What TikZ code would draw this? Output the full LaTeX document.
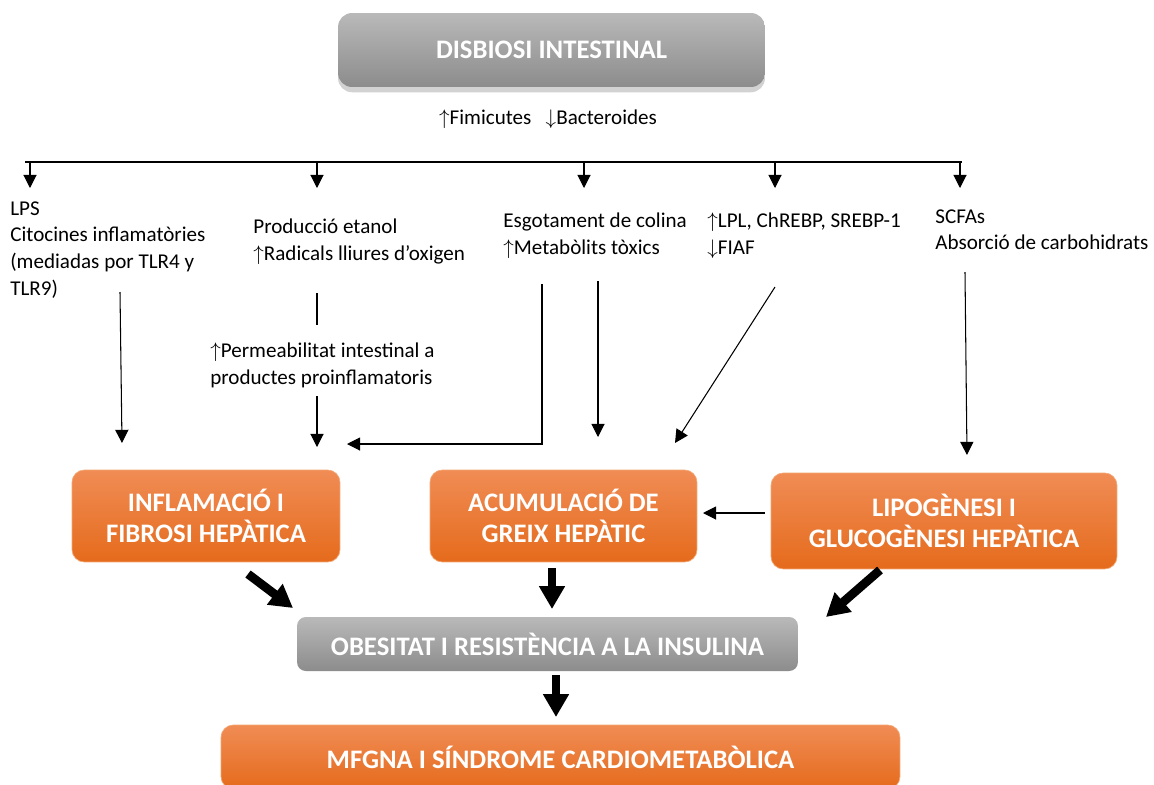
\documentclass[tikz,border=0pt]{standalone}
\usepackage{fontspec}
\setmainfont{Carlito}
\usetikzlibrary{arrows.meta,shadows}
\definecolor{grayT}{HTML}{B9B9B9}
\definecolor{grayB}{HTML}{8C8C8C}
\definecolor{orangeT}{HTML}{F08C55}
\definecolor{orangeB}{HTML}{E56B1C}
\definecolor{orangeE}{HTML}{F4A774}
\newcommand{\inc}{$\uparrow$}
\newcommand{\dec}{$\downarrow$}
\begin{document}
\begin{tikzpicture}[x=0.02cm,y=-0.02cm,
    arr/.style={line width=0.6pt,-{Triangle[width=7.5pt,length=7.5pt]}},
    bigarr/.style={line width=5pt,-{Triangle[width=14pt,length=13pt]}},
    txt/.style={anchor=north west,inner sep=0pt,align=left,font=\fontsize{12}{15.2}\selectfont},
    boxtxt/.style={text=white,font=\bfseries\fontsize{15.2}{18}\selectfont,align=center},
    orangebox/.style={boxtxt,rounded corners=7pt,top color=orangeT,bottom color=orangeB,draw=orangeE,line width=0.4pt},
    graybox/.style={boxtxt,rounded corners=5pt,top color=grayT,bottom color=grayB}]
    \clip (0,0) rectangle (1154,785);
    \fill[white] (0,0) rectangle (1154,785);
    %boxes
    \node[graybox,rounded corners=8pt,drop shadow={shadow xshift=0pt,shadow yshift=-3pt,opacity=0.35},minimum width=8.54cm,minimum height=1.48cm] (disb) at (551.5,50) {DISBIOSI INTESTINAL};
    \node[orangebox,minimum width=5.36cm,minimum height=1.84cm] (inflam) at (206,516) {INFLAMACIÓ I\\FIBROSI HEPÀTICA};
    \node[orangebox,minimum width=5.34cm,minimum height=1.84cm] (greix) at (563.5,516) {ACUMULACIÓ DE\\GREIX HEPÀTIC};
    \node[orangebox,minimum width=6.92cm,minimum height=1.92cm] (lipo) at (944,521) {LIPOGÈNESI I\\GLUCOGÈNESI HEPÀTICA};
    \node[graybox,minimum width=10.02cm,minimum height=1.08cm] (obes) at (547.5,644) {OBESITAT I RESISTÈNCIA A LA INSULINA};
    \node[orangebox,minimum width=13.58cm,minimum height=1.28cm] (mfgna) at (560.5,757) {MFGNA I SÍNDROME CARDIOMETABÒLICA};
    %texts
    \node[txt,anchor=center] (bact) at (548,119) {\inc Fimicutes\ \ \ \dec Bacteroides};
    \node[txt] (lps) at (10,201) {LPS\\Citocines inflamatòries\\(mediadas por TLR4 y\\TLR9)};
    \node[txt] (etanol) at (253,219) {Producció etanol\\\inc Radicals lliures d’oxigen};
    \node[txt] (colina) at (503,213) {Esgotament de colina\\\inc Metabòlits tòxics};
    \node[txt] (lpl) at (707,213) {\inc LPL, ChREBP, SREBP-1\\\dec FIAF};
    \node[txt] (scfa) at (935,209) {SCFAs\\Absorció de carbohidrats};
    \node[txt] (perm) at (210,343) {\inc Permeabilitat intestinal a\\productes proinflamatoris};
    %draw lines
    \coordinate (bus-l) at (25,162);
    \coordinate (bus-r) at (962,162);
    \draw[line width=0.6pt] (bus-l) -- (bus-r);
    \foreach \x/\n in {30/lps,317/etanol,584/colina,775/lpl,960/scfa}
        \draw[arr] (\x,162) coordinate (bus-\n) -- ++(0,26);
    \coordinate (lps-out) at (120,292);
    \coordinate (inflam-in) at (122,443);
    \draw[arr] (lps-out) -- (inflam-in);
    \coordinate (etanol-out) at (317,293);
    \coordinate (perm-in) at (317,325);
    \draw[line width=0.6pt] (etanol-out) -- (perm-in);
    \coordinate (perm-out) at (317,396);
    \coordinate (inflam-in2) at (317,447);
    \draw[arr] (perm-out) -- (inflam-in2);
    \coordinate (colina-out) at (542,284);
    \coordinate (inflam-in3) at (347,444);
    \draw[arr] (colina-out) |- (inflam-in3);
    \coordinate (colina-out2) at (598,281);
    \coordinate (greix-in) at (598,437);
    \draw[arr] (colina-out2) -- (greix-in);
    \coordinate (lpl-out) at (775,287);
    \coordinate (greix-in2) at (675,443);
    \draw[arr] (lpl-out) -- (greix-in2);
    \coordinate (scfa-out) at (965,272);
    \coordinate (lipo-in) at (967,455);
    \draw[arr] (scfa-out) -- (lipo-in);
    \coordinate (greix-in3) at (703,513);
    \draw[arr] (lipo.west |- greix-in3) ++(-6,0) -- (greix-in3);
    %thick arrows
    \coordinate (obes-l) at (293,608);
    \coordinate (obes-m) at (552,609);
    \coordinate (obes-r) at (826,617);
    \draw[bigarr] (248,574) coordinate (inflam-out) -- (obes-l);
    \draw[bigarr] (obes-m |- greix.south) ++(0,6) -- (obes-m);
    \draw[bigarr] (880,570) coordinate (lipo-out) -- (obes-r);
    \coordinate (mfgna-in) at (556,717);
    \draw[bigarr] (mfgna-in |- obes.south) ++(0,4) -- (mfgna-in);
\end{tikzpicture}
\end{document}
